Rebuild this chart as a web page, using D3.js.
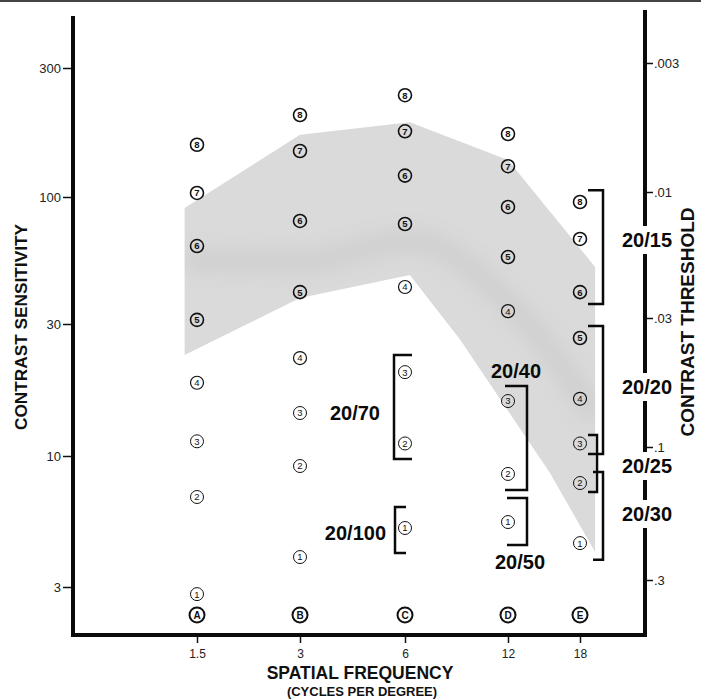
<!DOCTYPE html>
<html>
<head>
<meta charset="utf-8">
<script src="https://cdn.jsdelivr.net/npm/d3@7"></script>
<style>
  html, body { margin: 0; padding: 0; background: #fff; }
  svg { display: block; }
</style>
</head>
<body>
<script>
// ---------------- DATA ----------------
const freqs = [1.5, 3, 6, 12, 18];                 // spatial frequency (cycles/degree)
const columnLetters = ["A", "B", "C", "D", "E"];
const levels = [1, 2, 3, 4, 5, 6, 7, 8];
// contrast sensitivity of each numbered patch, per column (levels 1..8)
const sens_1_5 = [2.81, 6.86, 11.3, 18.4, 31.2, 62.8, 103.5, 156];
const sens_3   = [3.95, 9.12, 14.3, 22.6, 40.6, 79.7, 148, 201];
const sens_6   = [5.16, 11.1, 20.1, 42.6, 77.4, 120, 175, 238];
const sens_12  = [5.45, 8.48, 15.8, 33.9, 56.6, 91, 130, 171];
const sens_18  = [4.49, 7.80, 11.1, 16.1, 26.7, 40.6, 67.2, 95.4];
const letterRowSens = 2.32;

const sensTicks = [3, 10, 30, 100, 300];
const thresholdTicks = [0.003, 0.01, 0.03, 0.1, 0.3];
const freqTicks = [1.5, 3, 6, 12, 18];

// normal range band: [frequency, contrast sensitivity]
const bandUpper = [[1.38, 90], [3, 170], [6.2, 189], [12, 137], [19.6, 51.5]];
const bandLower = [[1.38, 23.2], [3, 38.4], [6.2, 47.7], [8.7, 26.3], [15.2, 8.55], [19.6, 4.14]];
const bandCore  = [[1.38, 55], [3, 54], [6.2, 66], [12, 37], [19.6, 14]];

// acuity brackets
const acuityLabels = ["20/15", "20/20", "20/25", "20/30", "20/40", "20/50", "20/70", "20/100"];
const acuityFreq   = [18, 18, 18, 18, 12, 12, 6, 6];
const acuityHigh   = [106, 29.5, 11.9, 8.63, 17.9, 6.80, 23.2, 6.26];
const acuityLow    = [36.3, 10.17, 7.18, 3.85, 7.32, 4.41, 9.73, 4.10];

// ---------------- SETUP ----------------
const W = 701, H = 700;
const FONT = "'Liberation Sans', Arial, Helvetica, sans-serif";
const svg = d3.select("body").append("svg").attr("width", W).attr("height", H);
svg.append("rect").attr("width", W).attr("height", H).attr("fill", "#fff");

const x = d3.scaleLog().domain([1.5, 3, 6, 12, 18]).range([197, 300, 405, 508, 580]);
const y = d3.scaleLog().domain([3, 10, 30, 100, 300]).range([587, 456, 324, 197, 68]);
const yT = d3.scaleLog().domain([0.003, 0.01, 0.03, 0.1, 0.3]).range([63, 192, 318, 447, 580]);

const defs = svg.append("defs");
defs.append("filter").attr("id", "blur").attr("x", "-20%").attr("y", "-50%").attr("width", "140%").attr("height", "200%")
  .append("feGaussianBlur").attr("stdDeviation", 9);

// top page edge
svg.append("line").attr("x1", 0).attr("x2", W).attr("y1", 1).attr("y2", 1)
  .attr("stroke", "#444").attr("stroke-width", 2);

// ---------------- BAND ----------------
const bandPts = bandUpper.concat(bandLower.slice().reverse());
const line = d3.line().x(d => x(d[0])).y(d => y(d[1]));
defs.append("clipPath").attr("id", "bandclip").append("path").attr("d", line(bandPts) + "Z");
svg.append("path").attr("d", line(bandPts) + "Z").attr("fill", "#dadada");
svg.append("g").attr("clip-path", "url(#bandclip)")
  .append("path").attr("d", d3.line().curve(d3.curveMonotoneX).x(d => x(d[0])).y(d => y(d[1]))(bandCore))
  .attr("fill", "none").attr("stroke", "#c4c4c4").attr("stroke-width", 22).attr("opacity", 0.45)
  .attr("filter", "url(#blur)");

// ---------------- AXES ----------------
const gL = svg.append("g").attr("transform", "translate(71,0)")
  .call(d3.axisLeft(y).tickValues(sensTicks).tickFormat(d3.format("d")).tickSize(8).tickPadding(2));
gL.select(".domain").remove();
gL.attr("font-size", 13).attr("font-family", FONT);
gL.selectAll("line").attr("stroke", "#111").attr("stroke-width", 1.5);
gL.selectAll("text").attr("fill", "#222");

const gR = svg.append("g").attr("transform", "translate(647,0)")
  .call(d3.axisRight(yT).tickValues(thresholdTicks)
    .tickFormat(d => d3.format(".3~f")(d).replace(/^0/, "")).tickSize(6).tickPadding(1));
gR.select(".domain").remove();
gR.attr("font-size", 13).attr("font-family", FONT);
gR.selectAll("line").attr("stroke", "#111").attr("stroke-width", 1.5);
gR.selectAll("text").attr("fill", "#222");

const gB = svg.append("g").attr("transform", "translate(0,637)")
  .call(d3.axisBottom(x).tickValues(freqTicks).tickFormat(d => String(d)).tickSize(6).tickPadding(6));
gB.select(".domain").remove();
gB.attr("font-size", 12).attr("font-family", FONT);
gB.selectAll("line").attr("stroke", "#111").attr("stroke-width", 1.5);
gB.selectAll("text").attr("fill", "#222");

// thick frame lines
svg.append("path").attr("d", "M73,16 L73,635 L645,635 L645,10")
  .attr("fill", "none").attr("stroke", "#0a0a0a").attr("stroke-width", 4).attr("stroke-linejoin", "miter");

// axis titles
svg.append("text").attr("transform", "translate(27,327) rotate(-90)")
  .attr("text-anchor", "middle").attr("font-family", FONT).attr("font-weight", "bold")
  .attr("font-size", 17).attr("textLength", 206).attr("lengthAdjust", "spacingAndGlyphs")
  .attr("fill", "#111").text("CONTRAST SENSITIVITY");
svg.append("text").attr("transform", "translate(694,322) rotate(-90)")
  .attr("text-anchor", "middle").attr("font-family", FONT).attr("font-weight", "bold")
  .attr("font-size", 17.5).attr("textLength", 229).attr("lengthAdjust", "spacingAndGlyphs")
  .attr("fill", "#111").text("CONTRAST THRESHOLD");
svg.append("text").attr("x", 360).attr("y", 679).attr("text-anchor", "middle")
  .attr("font-family", FONT).attr("font-weight", "bold").attr("font-size", 17.5)
  .attr("fill", "#111").text("SPATIAL FREQUENCY");
svg.append("text").attr("x", 362).attr("y", 696).attr("text-anchor", "middle")
  .attr("font-family", FONT).attr("font-weight", "bold").attr("font-size", 13)
  .attr("fill", "#111").text("(CYCLES PER DEGREE)");

// ---------------- MARKERS ----------------
const columns = [sens_1_5, sens_3, sens_6, sens_12, sens_18];
const markerData = [];
columns.forEach((col, i) => col.forEach((v, j) => markerData.push({ f: freqs[i], v, level: levels[j] })));

const mk = svg.append("g").selectAll("g").data(markerData).join("g")
  .attr("transform", d => `translate(${x(d.f)},${y(d.v)})`);
mk.append("circle").attr("r", 6.5).attr("fill", "none").attr("stroke", "#111")
  .attr("stroke-width", d => d.level <= 3 ? 1.0 : d.level === 4 ? 1.2 : 1.6);
mk.append("text").attr("text-anchor", "middle").attr("dy", "0.36em")
  .attr("font-family", FONT).attr("font-size", 9.5)
  .attr("font-weight", d => d.level >= 5 ? "bold" : "normal")
  .attr("fill", "#111").text(d => d.level);

const lt = svg.append("g").selectAll("g").data(freqs).join("g")
  .attr("transform", d => `translate(${x(d)},${y(letterRowSens)})`);
lt.append("circle").attr("r", 7.5).attr("fill", "none").attr("stroke", "#111").attr("stroke-width", 2);
lt.append("text").attr("text-anchor", "middle").attr("dy", "0.36em")
  .attr("font-family", FONT).attr("font-size", 10).attr("font-weight", "bold")
  .attr("fill", "#111").text((d, i) => columnLetters[i]);

// ---------------- BRACKETS ----------------
// per-bracket layout: bracket x offset from column, tick length (negative = ticks to the left), label placement
const layout = {
  "20/15":  { dx: 23, tick: -15, lx: 622, anchor: "start", ly: m => 240 },
  "20/20":  { dx: 23, tick: -15, lx: 622, anchor: "start", ly: m => 387 },
  "20/25":  { dx: 17, tick: -9,  lx: 622, anchor: "start", ly: m => 466 },
  "20/30":  { dx: 23, tick: -10, lx: 622, anchor: "start", ly: m => 514 },
  "20/40":  { dx: 19, tick: -22, lxo: -11, anchor: "middle", ly: (m, t, b) => t - 15 },
  "20/50":  { dx: 19, tick: -20, lxo: -7, anchor: "middle", ly: (m, t, b) => b + 17 },
  "20/70":  { dx: -11, tick: 18, lxo: -14, anchor: "end", ly: m => m + 6 },
  "20/100": { dx: -10, tick: 11, lxo: -9, anchor: "end", ly: m => m + 3 }
};

const bg = svg.append("g");
acuityLabels.forEach((lab, i) => {
  const L = layout[lab];
  const bx = x(acuityFreq[i]) + L.dx;
  const top = y(acuityHigh[i]), bot = y(acuityLow[i]);
  const mid = (top + bot) / 2;
  bg.append("path")
    .attr("d", `M${bx + L.tick},${top} L${bx},${top} L${bx},${bot} L${bx + L.tick},${bot}`)
    .attr("fill", "none").attr("stroke", "#0a0a0a").attr("stroke-width", 2.5)
    .attr("stroke-linejoin", "miter");
  const cy = L.ly(mid, top, bot);
  const lx = L.lx !== undefined ? L.lx : bx + L.lxo;
  const t = bg.append("text").attr("x", lx).attr("y", cy).attr("dy", "0.36em")
    .attr("text-anchor", L.anchor).attr("font-family", FONT).attr("font-weight", "bold")
    .attr("font-size", 20).attr("fill", "#0a0a0a").text(lab);
  if (L.lx !== undefined) {
    const bb = t.node().getBBox();
    bg.insert("rect", () => t.node())
      .attr("x", bb.x - 3).attr("y", cy - 14).attr("width", bb.width + 6).attr("height", 28)
      .attr("fill", "#fff");
  }
});
</script>
</body>
</html>
